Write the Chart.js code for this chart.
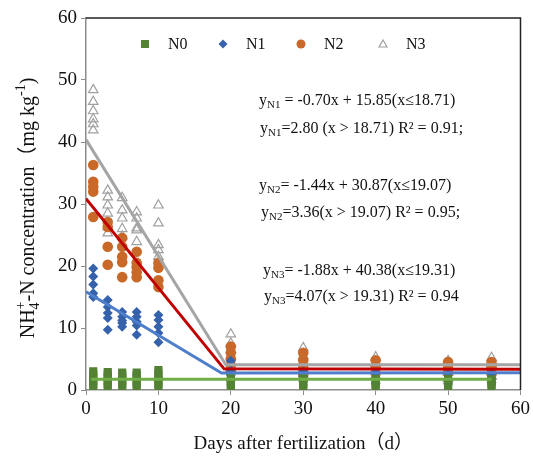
<!DOCTYPE html>
<html>
<head>
<meta charset="utf-8">
<script src="https://cdn.jsdelivr.net/npm/chart.js@4.4.1/dist/chart.umd.min.js"></script>
<style>
  html, body { margin: 0; padding: 0; background: #fff; }
  #wrap { position: relative; width: 533px; height: 458px; }
</style>
</head>
<body>
<div id="wrap"><canvas id="chart"></canvas></div>
<script>
// sampling days
const days = [1, 3, 5, 7, 10, 20, 30, 40, 50, 56];

// measured values per day (one inner list per day)
const n0Values = [
  [0.5, 1.0, 1.5, 2.0, 2.5, 3.0],
  [0.5, 1.0, 1.5, 2.0, 2.5, 2.9],
  [0.5, 1.0, 1.5, 2.0, 2.4, 2.8],
  [0.5, 1.0, 1.5, 2.0, 2.4, 2.8],
  [0.5, 1.0, 1.5, 2.0, 2.6, 3.2],
  [0.4, 0.9, 1.4, 1.9],
  [0.4, 0.9, 1.4, 1.9],
  [0.4, 0.9, 1.4, 1.8],
  [0.4, 0.9, 1.4, 1.8],
  [0.4, 0.9, 1.3, 1.7]
];
const n1Values = [
  [19.6, 18.3, 17.0, 15.6, 15.0],
  [14.5, 13.4, 12.4, 11.6, 9.7],
  [12.6, 11.8, 11.2, 10.8, 10.2],
  [12.6, 11.8, 11.0, 10.4, 8.9],
  [12.1, 11.3, 10.2, 9.2, 7.7],
  [4.7, 3.2, 2.4, 1.5],
  [3.0, 2.2, 1.4],
  [2.8, 1.8, 1.1],
  [2.6, 1.6, 1.0],
  [2.6, 1.8, 1.2]
];
const n2Values = [
  [36.3, 33.6, 32.8, 32.0, 27.9],
  [27.1, 26.3, 23.1, 20.2],
  [24.5, 23.1, 21.5, 20.6, 18.2],
  [22.3, 20.5, 19.8, 19.0, 18.2],
  [20.5, 19.7, 17.7, 16.6],
  [7.0, 6.0, 5.0, 4.0, 3.0],
  [6.0, 4.8, 3.6, 2.4],
  [4.8, 3.8, 2.7],
  [4.5, 3.5, 2.8],
  [4.5, 3.6, 2.6]
];
const n3Values = [
  [48.4, 46.5, 45.0, 43.7, 42.9, 41.9],
  [32.2, 31.1, 29.8, 28.5, 26.3, 25.3],
  [31.0, 29.0, 27.7, 26.0, 24.8],
  [28.7, 27.7, 26.1, 25.8, 23.9],
  [29.8, 26.9, 23.4, 22.6, 21.5],
  [9.0, 7.5, 6.5, 5.5, 4.5, 3.5],
  [6.8, 5.5, 4.5, 3.5],
  [5.3, 4.3, 3.3, 2.3],
  [4.7, 3.8, 2.8, 1.8],
  [5.2, 4.2, 3.2, 2.2]
];

// piecewise fits: y = slope*x + intercept up to the break, then plateau
const fitSlopes = [-0.70, -1.44, -1.88];
const fitIntercepts = [15.85, 30.87, 40.38];
const fitBreaks = [18.71, 19.07, 19.31];
const fitPlateaus = [2.80, 3.36, 4.07];
const n0Level = 1.75;
const n0Range = [0.7, 56];

const legendLabels = ['N0', 'N1', 'N2', 'N3'];
const yTicks = [0, 10, 20, 30, 40, 50, 60];
const xTicks = [0, 10, 20, 30, 40, 50, 60];

// equation lines: [subscript label, text after it]
const equations = [
  ['N1', ' = -0.70x + 15.85(x\u226418.71)'],
  ['N1', '=2.80 (x > 18.71) R\u00b2 = 0.91;'],
  ['N2', '= -1.44x + 30.87(x\u226419.07)'],
  ['N2', '=3.36(x > 19.07) R\u00b2 = 0.95;'],
  ['N3', '= -1.88x + 40.38(x\u226419.31)'],
  ['N3', '=4.07(x > 19.31) R\u00b2 = 0.94']
];

const SERIF = "'Liberation Serif', 'Times New Roman', 'Noto Sans CJK SC', serif";
const colors = ['#548235', '#3562aa', '#c8692a', '#a0a0a0'];
const lineColors = ['#70ad47', '#4f7fcc', '#c00000', '#a5a5a5'];
const markers = ['rect', 'rectRot', 'circle', 'triangle'];

function toPoints(vals) {
  let pts = [];
  for (let i = 0; i < days.length; i++) {
    vals[i].forEach(v => pts.push({ x: days[i], y: v }));
  }
  return pts;
}

function fitLine(i) {
  const b = fitBreaks[i];
  return [
    { x: 0, y: fitIntercepts[i] },
    { x: b, y: fitSlopes[i] * b + fitIntercepts[i] },
    { x: 60, y: fitPlateaus[i] }
  ];
}

const allValues = [n0Values, n1Values, n2Values, n3Values];
const datasets = [];

// fit lines (drawn on top of the points)
datasets.push({
  type: 'line', label: 'fitN0', order: 0,
  data: [{ x: n0Range[0], y: n0Level }, { x: n0Range[1], y: n0Level }],
  borderColor: lineColors[0], borderWidth: 3, pointRadius: 0, fill: false
});
for (let i = 0; i < 3; i++) {
  datasets.push({
    type: 'line', label: 'fit' + legendLabels[i + 1], order: 0,
    data: fitLine(i),
    borderColor: lineColors[i + 1], borderWidth: 3, pointRadius: 0, fill: false
  });
}
// measured points
for (let i = 0; i < 4; i++) {
  datasets.push({
    type: 'scatter', label: legendLabels[i], order: 1,
    data: toPoints(allValues[i]),
    pointStyle: markers[i],
    pointRadius: [5.8, 5, 5.3, 5.5][i],
    pointBorderWidth: i === 3 ? 1.2 : 0,
    pointBackgroundColor: i === 3 ? 'rgba(0,0,0,0)' : colors[i],
    pointBorderColor: colors[i]
  });
}

function drawMarker(ctx, style, x, y, r, color) {
  ctx.save();
  ctx.fillStyle = color;
  ctx.strokeStyle = color;
  ctx.lineWidth = 1.2;
  ctx.beginPath();
  if (style === 'rect') {
    ctx.rect(x - r, y - r, 2 * r, 2 * r);
    ctx.fill();
  } else if (style === 'rectRot') {
    ctx.moveTo(x, y - r); ctx.lineTo(x + r, y); ctx.lineTo(x, y + r); ctx.lineTo(x - r, y);
    ctx.closePath(); ctx.fill();
  } else if (style === 'circle') {
    ctx.arc(x, y, r, 0, Math.PI * 2);
    ctx.fill();
  } else {
    ctx.moveTo(x, y - r); ctx.lineTo(x + r, y + r * 0.75); ctx.lineTo(x - r, y + r * 0.75);
    ctx.closePath(); ctx.stroke();
  }
  ctx.restore();
}

const decorations = {
  id: 'decorations',
  afterDraw(chart) {
    const ctx = chart.ctx;
    const a = chart.chartArea;

    // top and right frame
    ctx.save();
    ctx.strokeStyle = '#222';
    ctx.lineWidth = 1.5;
    ctx.beginPath();
    ctx.moveTo(a.left, a.top); ctx.lineTo(a.right, a.top); ctx.lineTo(a.right, a.bottom);
    ctx.stroke();
    ctx.restore();

    // legend inside the plot
    const legX = [145, 223, 301, 383];
    const legY = 44;
    ctx.save();
    ctx.font = '16px ' + SERIF;
    ctx.fillStyle = '#111';
    ctx.textBaseline = 'middle';
    for (let i = 0; i < 4; i++) {
      drawMarker(ctx, markers[i], legX[i], legY, [4, 4.5, 4.5, 4][i], colors[i]);
      ctx.fillText(legendLabels[i], legX[i] + 23, legY + 1);
    }
    ctx.restore();

    // equations
    const eqX = [259, 260, 259, 261, 263, 264];
    const eqY = [100, 128, 185, 212, 270, 296];
    ctx.save();
    ctx.fillStyle = '#111';
    ctx.textBaseline = 'alphabetic';
    equations.forEach((eq, k) => {
      let x = eqX[k];
      const base = eqY[k] + 5;
      ctx.font = '16px ' + SERIF;
      ctx.fillText('y', x, base);
      x += ctx.measureText('y').width;
      ctx.font = '11px ' + SERIF;
      ctx.fillText(eq[0], x, base + 3);
      x += ctx.measureText(eq[0]).width;
      ctx.font = '16px ' + SERIF;
      ctx.fillText(eq[1], x, base);
    });
    ctx.restore();

    // y axis title with sub/superscripts
    const parts = [
      { t: 'NH', size: 20, dy: 0 },
      { t: '4', size: 14, dy: 5, stack: '+', stackDy: -9 },
      { t: '-N concentration', size: 20, dy: 0 },
      { t: '\uff08', size: 20, dy: 0 },
      { t: 'mg kg', size: 20, dy: 0 },
      { t: '-1', size: 14, dy: -9 },
      { t: ')', size: 20, dy: 0 }
    ];
    ctx.save();
    ctx.translate(27, 208);
    ctx.rotate(-Math.PI / 2);
    ctx.fillStyle = '#111';
    ctx.textBaseline = 'alphabetic';
    let total = 0;
    parts.forEach(p => {
      ctx.font = p.size + 'px ' + SERIF;
      let w = ctx.measureText(p.t).width;
      if (p.stack) w = Math.max(w, ctx.measureText(p.stack).width);
      p.w = w;
      total += w;
    });
    let x = -total / 2;
    parts.forEach(p => {
      ctx.font = p.size + 'px ' + SERIF;
      ctx.fillText(p.t, x, 7 + p.dy);
      if (p.stack) ctx.fillText(p.stack, x, 7 + p.stackDy);
      x += p.w;
    });
    ctx.restore();
  }
};

new Chart(document.getElementById('chart'), {
  type: 'scatter',
  data: { datasets: datasets },
  options: {
    responsive: true,
    maintainAspectRatio: false,
    animation: false,
    layout: { padding: { left: 0, right: 12, top: 18, bottom: 0 } },
    plugins: {
      legend: { display: false },
      tooltip: { enabled: false }
    },
    scales: {
      x: {
        type: 'linear',
        min: 0, max: 60,
        afterBuildTicks: s => { s.ticks = xTicks.map(v => ({ value: v })); },
        afterFit: s => { s.height = 68; },
        grid: { drawOnChartArea: false, drawTicks: true, tickLength: 5, color: '#8c8c8c' },
        border: { display: true, color: '#8c8c8c', width: 1.5 },
        ticks: { color: '#111', padding: 3, maxRotation: 0, font: { family: SERIF, size: 19 } },
        title: {
          display: true,
          text: 'Days after fertilization\uff08d\uff09',
          color: '#111',
          padding: { top: 0, bottom: 3 },
          font: { family: SERIF, size: 19 }
        }
      },
      y: {
        type: 'linear',
        min: 0, max: 60,
        afterBuildTicks: s => { s.ticks = yTicks.map(v => ({ value: v })); },
        afterFit: s => { s.width = 86; },
        grid: { drawOnChartArea: false, drawTicks: true, tickLength: 5, color: '#8c8c8c' },
        border: { display: true, color: '#8c8c8c', width: 1.5 },
        ticks: { color: '#111', padding: 4, font: { family: SERIF, size: 19 } }
      }
    }
  },
  plugins: [decorations]
});
</script>
</body>
</html>
